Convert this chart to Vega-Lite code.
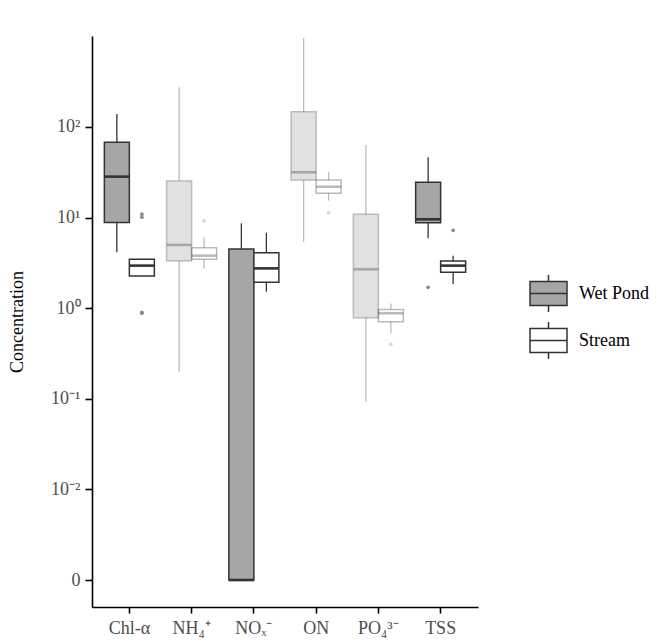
{
  "$schema": "https://vega.github.io/schema/vega-lite/v6.json",
  "autosize": "none",
  "padding": {"left": 92, "top": 36, "right": 185, "bottom": 37},
  "width": 386,
  "height": 571,
  "background": "white",
  "config": {"view": {"stroke": null}, "font": "Liberation Serif", "legend": {"labelFont": "Liberation Serif, serif"}},
  "datasets": {
    "boxes": [
      {"variable": "Chl-α", "group": "Wet Pond", "lo": 4.14, "q1": 8.8, "median": 28.3, "q3": 67.8, "hi": 139},
      {"variable": "Chl-α", "group": "Stream", "lo": 2.27, "q1": 2.27, "median": 2.95, "q3": 3.47, "hi": 3.47},
      {"variable": "NH₄⁺", "group": "Wet Pond", "lo": 0.199, "q1": 3.34, "median": 4.99, "q3": 25.4, "hi": 274},
      {"variable": "NH₄⁺", "group": "Stream", "lo": 2.75, "q1": 3.47, "median": 3.8, "q3": 4.66, "hi": 6.07},
      {"variable": "NOₓ⁻", "group": "Wet Pond", "lo": 0.001, "q1": 0.001, "median": 0.001, "q3": 4.5, "hi": 8.65},
      {"variable": "NOₓ⁻", "group": "Stream", "lo": 1.52, "q1": 1.93, "median": 2.75, "q3": 4.1, "hi": 6.8},
      {"variable": "ON", "group": "Wet Pond", "lo": 5.42, "q1": 26.0, "median": 31.6, "q3": 147, "hi": 953},
      {"variable": "ON", "group": "Stream", "lo": 15.4, "q1": 18.5, "median": 21.9, "q3": 26.0, "hi": 31.6},
      {"variable": "PO₄³⁻", "group": "Wet Pond", "lo": 0.093, "q1": 0.785, "median": 2.69, "q3": 10.9, "hi": 63.2},
      {"variable": "PO₄³⁻", "group": "Stream", "lo": 0.53, "q1": 0.71, "median": 0.88, "q3": 0.97, "hi": 1.13},
      {"variable": "TSS", "group": "Wet Pond", "lo": 5.92, "q1": 8.79, "median": 9.57, "q3": 24.5, "hi": 46.4},
      {"variable": "TSS", "group": "Stream", "lo": 1.85, "q1": 2.49, "median": 2.95, "q3": 3.32, "hi": 3.79}
    ],
    "outliers": [
      {"variable": "Chl-α", "group": "Stream", "value": 10.9},
      {"variable": "Chl-α", "group": "Stream", "value": 10.1},
      {"variable": "Chl-α", "group": "Stream", "value": 0.9},
      {"variable": "Chl-α", "group": "Stream", "value": 0.88},
      {"variable": "NH₄⁺", "group": "Stream", "value": 9.2},
      {"variable": "ON", "group": "Stream", "value": 11.3},
      {"variable": "PO₄³⁻", "group": "Stream", "value": 0.4},
      {"variable": "TSS", "group": "Wet Pond", "value": 1.7},
      {"variable": "TSS", "group": "Stream", "value": 7.24}
    ]
  },
  "encoding": {
    "x": {
      "field": "variable", "type": "nominal",
      "scale": {"domain": ["Chl-α", "NH₄⁺", "NOₓ⁻", "ON", "PO₄³⁻", "TSS"], "paddingInner": 0, "paddingOuter": 0.1},
      "axis": {"title": null, "labelAngle": 0, "domainColor": "black", "domainWidth": 1.6, "tickColor": "black", "tickWidth": 1.6, "tickSize": 6, "labelFont": "Liberation Serif", "labelFontSize": 18, "labelColor": "#4d4d4d", "labelPadding": 6}
    },
    "xOffset": {"field": "group", "type": "nominal", "scale": {"domain": ["Wet Pond", "Stream"], "paddingInner": 0, "paddingOuter": 0.245}},
    "opacity": {"condition": {"test": "indexof(['NH₄⁺', 'ON', 'PO₄³⁻'], datum.variable) >= 0", "value": 0.33}, "value": 1}
  },
  "layer": [
    {
      "data": {"name": "boxes"},
      "mark": {"type": "rule", "color": "#333333", "strokeWidth": 1.3},
      "encoding": {
        "y": {"field": "lo", "type": "quantitative", "scale": {"type": "log", "domain": [0.000504, 1009], "nice": false},
          "axis": {"title": "Concentration", "values": [0.001, 0.01, 0.1, 1, 10, 100], "grid": false, "domainColor": "black", "domainWidth": 1.6, "tickColor": "black", "tickWidth": 1.6, "tickSize": 7, "labelFont": "Liberation Serif", "labelFontSize": 18, "labelColor": "#4d4d4d", "labelPadding": 5,
            "labelExpr": "datum.value < 0.005 ? '0' : datum.value < 0.05 ? '10⁻²' : datum.value < 0.5 ? '10⁻¹' : datum.value < 5 ? '10⁰' : datum.value < 50 ? '10¹' : '10²'",
            "titleFont": "Liberation Serif", "titleFontSize": 18, "titleFontWeight": "normal", "titleColor": "black", "titleX": -66, "titleBaseline": "bottom"}},
        "y2": {"field": "q1"}
      }
    },
    {
      "data": {"name": "boxes"},
      "mark": {"type": "rule", "color": "#333333", "strokeWidth": 1.3},
      "encoding": {
        "y": {"field": "q3", "type": "quantitative", "scale": {"type": "log", "domain": [0.000504, 1009], "nice": false}},
        "y2": {"field": "hi"}
      }
    },
    {
      "data": {"name": "boxes"},
      "mark": {"type": "bar", "stroke": "#333333", "strokeWidth": 1.5},
      "encoding": {
        "y": {"field": "q1", "type": "quantitative", "scale": {"type": "log", "domain": [0.000504, 1009], "nice": false}},
        "y2": {"field": "q3"},
        "fill": {"field": "group", "type": "nominal", "scale": {"domain": ["Wet Pond", "Stream"], "range": ["#a6a6a6", "#ffffff"]},
          "legend": {"title": null, "orient": "none", "legendX": 437, "legendY": 238, "padding": 0,
            "symbolType": "M-1,-0.65H1V0.65H-1Z M-1,0H1 M0,-0.65V-1 M0,0.65V1",
            "symbolSize": 1369, "symbolStrokeColor": "#333333", "symbolStrokeWidth": 1.5, "symbolOpacity": 1,
            "labelFont": "Liberation Serif, serif", "labelFontSize": 18, "labelColor": "black", "labelOffset": 11, "rowPadding": 4}}
      }
    },
    {
      "data": {"name": "boxes"},
      "mark": {"type": "tick", "color": "#333333", "thickness": 2.6, "size": 25},
      "encoding": {
        "y": {"field": "median", "type": "quantitative", "scale": {"type": "log", "domain": [0.000504, 1009], "nice": false}}
      }
    },
    {
      "data": {"name": "outliers"},
      "mark": {"type": "point", "filled": true, "color": "#8c8c8c", "size": 14},
      "encoding": {
        "y": {"field": "value", "type": "quantitative", "scale": {"type": "log", "domain": [0.000504, 1009], "nice": false}}
      }
    }
  ]
}
